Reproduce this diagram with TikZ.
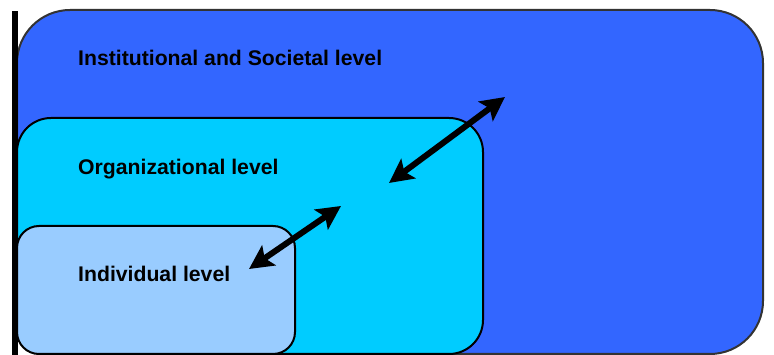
\documentclass[tikz,border=0pt]{standalone}
\usepackage{fontspec}
\setmainfont{Liberation Sans}
\usetikzlibrary{arrows.meta}
\begin{document}
\begin{tikzpicture}[x=1pt,y=-1pt,
  levelbox/.style={line width=2pt, inner sep=0pt, outer sep=0pt},
  leveltext/.style={anchor=base west, inner sep=0pt, font=\fontsize{21.2}{25}\selectfont\bfseries},
  dblarrow/.style={line width=6pt, {Stealth[length=24pt,width=24pt,inset=5pt]}-{Stealth[length=24pt,width=24pt,inset=5pt]}}
]
\useasboundingbox (0,0) rectangle (774,355);
\begin{scope}
\clip (0,0) rectangle (774,355);
\draw[levelbox, draw={rgb,255:red,51;green,51;blue,51}, fill={rgb,255:red,51;green,102;blue,255}, rounded corners=53pt] (17,10) rectangle (763,354);
\draw[levelbox, draw=black, fill={rgb,255:red,0;green,204;blue,255}, rounded corners=34pt] (17,118) rectangle (483,354);
\draw[levelbox, draw=black, fill={rgb,255:red,153;green,204;blue,255}, rounded corners=22pt] (17,226) rectangle (295,354);
\end{scope}
\fill[black] (11.5,11) rectangle (17.5,355);
\node[leveltext] (inst) at (78,66) {Institutional and Societal level};
\node[leveltext] (org) at (78,175) {Organizational level};
\node[leveltext] (ind) at (78,282) {Individual level};
\coordinate (a1) at (249,269);
\coordinate (a2) at (341,206);
\coordinate (b1) at (389,183);
\coordinate (b2) at (505,97);
\draw[dblarrow] (a1) -- (a2);
\draw[dblarrow] (b1) -- (b2);
\end{tikzpicture}
\end{document}
